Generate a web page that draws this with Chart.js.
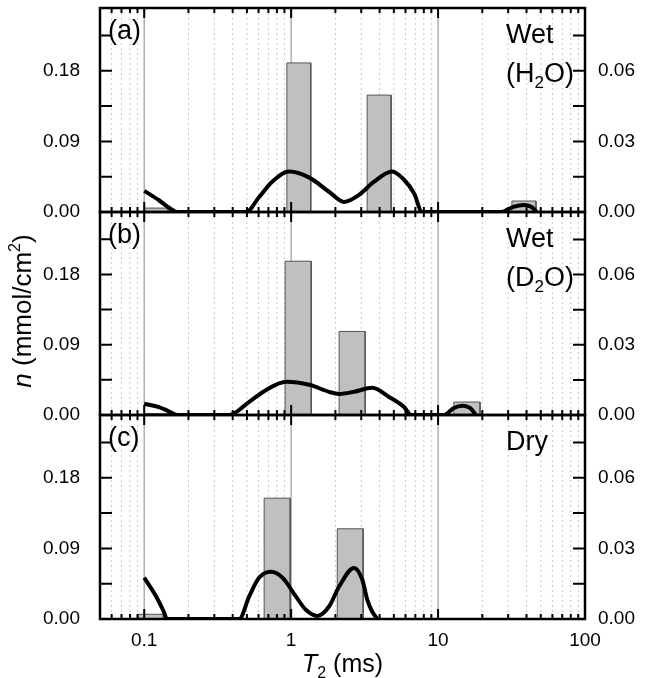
<!DOCTYPE html>
<html>
<head>
<meta charset="utf-8">
<script src="https://cdn.jsdelivr.net/npm/chart.js@4.4.1/dist/chart.umd.min.js"></script>
<style>
  html, body { margin: 0; padding: 0; background: #fff; }
  #wrap { position: relative; width: 645px; height: 678px; }
  #wrap canvas { position: absolute; left: 0; top: 0; }
</style>
</head>
<body>
<div id="wrap">
  <canvas id="panel-a" width="645" height="678"></canvas>
  <canvas id="panel-b" width="645" height="678"></canvas>
  <canvas id="panel-c" width="645" height="678"></canvas>
</div>
<script>
// --- Datos ---
// Eje x: T2 (ms), escala logarítmica
const xMin = 0.05, xMax = 100;
const xDecades = [0.01, 0.1, 1, 10];
const xMajorTicks = [0.1, 1, 10, 100];
const xTickLabels = ['0.1', '1', '10', '100'];

// Eje izquierdo (barras) y derecho (curva)
const leftMax = 0.26;
const leftTicks = [0, 0.045, 0.09, 0.135, 0.18, 0.225];
const leftTickLabels = ['0.00', '', '0.09', '', '0.18', ''];
const rightMax = 0.0867;
const rightTicks = [0, 0.015, 0.03, 0.045, 0.06, 0.075];
const rightTickLabels = ['0.00', '', '0.03', '', '0.06', ''];

// (a) Wet (H2O)
const aBarLo = [0.1, 0.935, 3.29, 31.8];
const aBarHi = [0.145, 1.36, 4.79, 46.4];
const aBarN = [0.005, 0.190, 0.149, 0.014];
const aCurveT = [0.1, 0.126, 0.15, 0.168, 0.494, 0.606, 0.743, 0.97, 1.33, 1.81, 2.29, 2.9, 3.67, 4.86, 5.87, 6.87, 7.78, 26.8, 32.5, 38.5, 43, 47];
const aCurveN = [0.0090, 0.0050, 0.0015, 0, 0, 0.0064, 0.0129, 0.0172, 0.0146, 0.0086, 0.0043, 0.0073, 0.0129, 0.0172, 0.0137, 0.0079, 0, 0, 0.0022, 0.0030, 0.0022, 0];

// (b) Wet (D2O)
const bBarLo = [0.1, 0.91, 2.12, 12.8];
const bBarHi = [0.15, 1.37, 3.19, 19.3];
const bBarN = [0.002, 0.197, 0.107, 0.0166];
const bCurveT = [0.1, 0.126, 0.148, 0.168, 0.379, 0.518, 0.676, 0.925, 1.33, 1.81, 2.12, 2.68, 3.56, 4.64, 5.87, 6.55, 11.0, 12.8, 14.6, 16.5, 18.1];
const bCurveN = [0.0048, 0.0034, 0.0015, 0, 0, 0.0056, 0.0107, 0.0142, 0.0129, 0.0099, 0.0090, 0.0099, 0.0116, 0.0077, 0.0034, 0, 0, 0.0030, 0.0040, 0.0030, 0];

// (c) Dry
const cBarLo = [0.091, 0.655, 2.06];
const cBarHi = [0.135, 0.985, 3.09];
const cBarN = [0.006, 0.154, 0.115];
const cCurveT = [0.1, 0.12, 0.135, 0.143, 0.443, 0.518, 0.606, 0.727, 0.873, 1.076, 1.259, 1.51, 1.81, 2.12, 2.68, 3.05, 3.30, 3.57, 3.86];
const cCurveN = [0.0176, 0.0098, 0.0035, 0, 0, 0.0096, 0.0176, 0.0201, 0.0176, 0.0096, 0.0039, 0.0013, 0.0053, 0.0138, 0.0217, 0.0167, 0.0081, 0.0030, 0];

// --- Estilo ---
const FONT = "'Liberation Sans', Arial, sans-serif";
Chart.defaults.font.family = FONT;
Chart.defaults.font.size = 19;
Chart.defaults.color = '#000';

const xTicks = [];
xDecades.forEach(d => { for (let m = 1; m <= 9; m++) { const v = d * m; if (v >= xMin - 1e-9 && v < xMax) xTicks.push(v); } });
xTicks.push(xMax);

function isMajor(v) { const l = Math.log10(v); return Math.abs(l - Math.round(l)) < 1e-9; }

// Texto con subíndices / superíndices
function drawRich(ctx, parts, x, y, size) {
  parts.forEach(p => {
    const s = (p.sub || p.sup) ? Math.round(size * 0.62) : size;
    ctx.font = (p.italic ? 'italic ' : '') + s + 'px ' + FONT;
    const dy = p.sub ? size * 0.24 : (p.sup ? -size * 0.42 : 0);
    ctx.fillText(p.t, x, y + dy);
    x += ctx.measureText(p.t).width;
  });
}
function richWidth(ctx, parts, size) {
  let w = 0;
  parts.forEach(p => {
    const s = (p.sub || p.sup) ? Math.round(size * 0.62) : size;
    ctx.font = (p.italic ? 'italic ' : '') + s + 'px ' + FONT;
    w += ctx.measureText(p.t).width;
  });
  return w;
}

// Rejilla, marco, ticks hacia dentro y textos de cada panel
const panelDecor = {
  id: 'panelDecor',
  beforeDatasetsDraw(chart) {
    const { ctx, chartArea: a, scales: { x } } = chart;
    ctx.save();
    x.ticks.forEach(t => {
      const px = x.getPixelForValue(t.value);
      if (px <= a.left + 1 || px >= a.right - 1) return;
      ctx.beginPath();
      if (isMajor(t.value)) { ctx.strokeStyle = '#b0b0b0'; ctx.lineWidth = 1.5; ctx.setLineDash([]); }
      else { ctx.strokeStyle = '#c8c8c8'; ctx.lineWidth = 1; ctx.setLineDash([2, 3]); }
      ctx.moveTo(px, a.top); ctx.lineTo(px, a.bottom);
      ctx.stroke();
    });
    ctx.restore();
  },
  afterDatasetsDraw(chart) {
    const { ctx, chartArea: a, scales: { x, y, y2 } } = chart;
    ctx.save();
    ctx.strokeStyle = '#000';
    ctx.lineWidth = 2;
    ctx.beginPath();
    x.ticks.forEach(t => {
      const px = x.getPixelForValue(t.value);
      if (px <= a.left + 1 || px >= a.right - 1) return;
      const len = isMajor(t.value) ? 10 : 5;
      ctx.moveTo(px, a.top); ctx.lineTo(px, a.top + len);
      ctx.moveTo(px, a.bottom); ctx.lineTo(px, a.bottom - len);
    });
    y.ticks.forEach(t => { const py = y.getPixelForValue(t.value); ctx.moveTo(a.left, py); ctx.lineTo(a.left + 12, py); });
    y2.ticks.forEach(t => { const py = y2.getPixelForValue(t.value); ctx.moveTo(a.right, py); ctx.lineTo(a.right - 12, py); });
    ctx.stroke();
    ctx.lineWidth = 2.5;
    ctx.strokeRect(a.left, a.top, a.right - a.left, a.bottom - a.top);
    ctx.restore();
  },
  afterDraw(chart, args, opts) {
    const { ctx, chartArea: a } = chart;
    ctx.save();
    ctx.fillStyle = '#000';
    ctx.textBaseline = 'alphabetic';
    ctx.textAlign = 'left';
    drawRich(ctx, [{ t: opts.label }], a.left + 8, a.top + 31, 27);
    opts.lines.forEach((parts, i) => drawRich(ctx, parts, 506, a.top + 35 + i * 39, 27));
    if (opts.axisTitles) {
      const xt = [{ t: 'T', italic: true }, { t: '2', sub: true }, { t: ' (ms)' }];
      const w = richWidth(ctx, xt, 25);
      drawRich(ctx, xt, (a.left + a.right) / 2 - w / 2, 672, 25);
      const yt = [{ t: 'n', italic: true }, { t: ' (mmol/cm' }, { t: '2', sup: true }, { t: ')' }];
      const wy = richWidth(ctx, yt, 26);
      ctx.translate(31, 311);
      ctx.rotate(-Math.PI / 2);
      drawRich(ctx, yt, -wy / 2, 0, 26);
    }
    ctx.restore();
  }
};

function zeroPad(s) { s.paddingTop = 0; s.paddingBottom = 0; s.paddingLeft = 0; s.paddingRight = 0; }

// --- Fábrica de paneles ---
function renderPanel(id, p) {
  const barPts = [];
  p.lo.forEach((lo, i) => {
    barPts.push({ x: lo, y: 0 }, { x: lo, y: p.n[i] }, { x: p.hi[i], y: p.n[i] }, { x: p.hi[i], y: 0 });
  });
  const curvePts = p.ct.map((t, i) => ({ x: t, y: p.cn[i] }));

  return new Chart(document.getElementById(id), {
    type: 'line',
    data: {
      datasets: [
        { data: curvePts, yAxisID: 'y2', borderColor: '#000', borderWidth: 4, pointRadius: 0,
          cubicInterpolationMode: 'monotone', fill: false, order: 0 },
        { data: barPts, yAxisID: 'y', borderColor: '#555', borderWidth: 1, backgroundColor: '#c0c0c0',
          fill: 'origin', pointRadius: 0, tension: 0, order: 1 }
      ]
    },
    options: {
      responsive: false,
      animation: false,
      events: [],
      layout: { autoPadding: false, padding: { left: 0, right: 0, top: p.top, bottom: p.bottom } },
      plugins: {
        legend: { display: false },
        tooltip: { enabled: false },
        panelDecor: { label: p.label, lines: p.lines, axisTitles: p.showX }
      },
      scales: {
        x: {
          type: 'logarithmic', min: xMin, max: xMax,
          afterBuildTicks: s => { s.ticks = xTicks.map(v => ({ value: v, major: isMajor(v) })); },
          afterFit: s => { s.height = p.xHeight; zeroPad(s); },
          grid: { display: false, drawTicks: false },
          border: { display: false },
          ticks: {
            display: p.showX, padding: 10, autoSkip: false, maxRotation: 0, minRotation: 0,
            callback: v => { const k = xMajorTicks.findIndex(m => Math.abs(m - v) < 1e-9); return k >= 0 ? xTickLabels[k] : ''; }
          }
        },
        y: {
          position: 'left', min: 0, max: leftMax,
          afterBuildTicks: s => { s.ticks = leftTicks.map(v => ({ value: v })); },
          afterFit: s => { s.width = 100; zeroPad(s); },
          grid: { display: false, drawTicks: false },
          border: { display: false },
          ticks: { padding: 20, callback: (v, i) => leftTickLabels[i] }
        },
        y2: {
          position: 'right', min: 0, max: rightMax,
          afterBuildTicks: s => { s.ticks = rightTicks.map(v => ({ value: v })); },
          afterFit: s => { s.width = 60; zeroPad(s); },
          grid: { display: false, drawTicks: false },
          border: { display: false },
          ticks: { padding: 13, callback: (v, i) => rightTickLabels[i] }
        }
      }
    },
    plugins: [panelDecor]
  });
}

function initApp() {
  renderPanel('panel-a', {
    lo: aBarLo, hi: aBarHi, n: aBarN, ct: aCurveT, cn: aCurveN,
    top: 8, bottom: 466, xHeight: 0, showX: false, label: '(a)',
    lines: [[{ t: 'Wet' }], [{ t: '(H' }, { t: '2', sub: true }, { t: 'O)' }]]
  });
  renderPanel('panel-b', {
    lo: bBarLo, hi: bBarHi, n: bBarN, ct: bCurveT, cn: bCurveN,
    top: 212, bottom: 263, xHeight: 0, showX: false, label: '(b)',
    lines: [[{ t: 'Wet' }], [{ t: '(D' }, { t: '2', sub: true }, { t: 'O)' }]]
  });
  renderPanel('panel-c', {
    lo: cBarLo, hi: cBarHi, n: cBarN, ct: cCurveT, cn: cCurveN,
    top: 415, bottom: 19, xHeight: 40, showX: true, label: '(c)',
    lines: [[{ t: 'Dry' }]]
  });
}

window.onload = initApp;
</script>
</body>
</html>
